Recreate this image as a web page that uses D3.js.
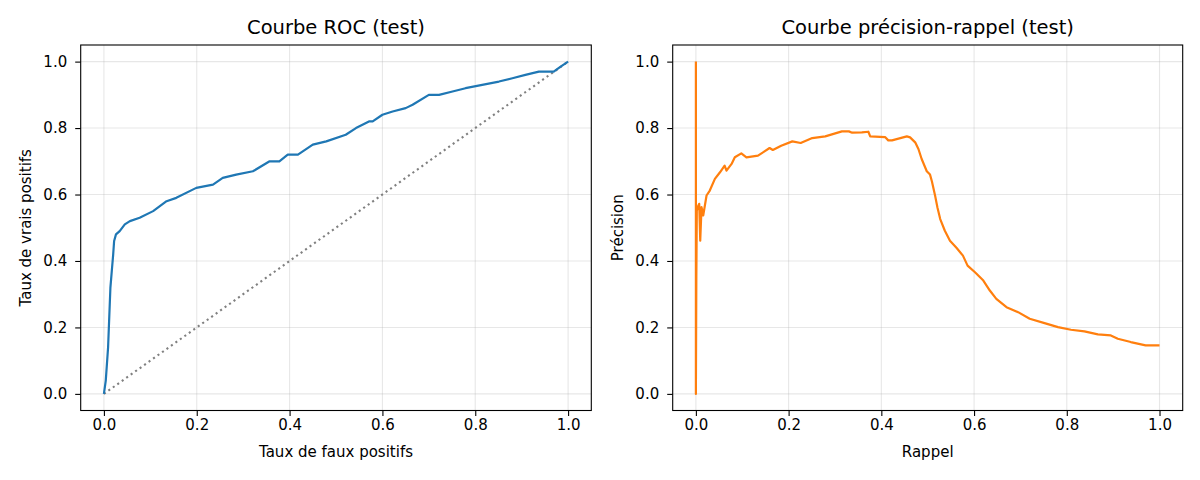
<!DOCTYPE html>
<html>
<head>
<meta charset="utf-8">
<script src="https://cdn.jsdelivr.net/npm/d3@7"></script>
<style>
    body { margin: 0; background: #fff; }
    svg { font-family: "DejaVu Sans", sans-serif; }
</style>
</head>
<body>
<svg id="chart" width="1200" height="480"></svg>
<script>
// ROC curve (test)
const rocFpr = [0, 0.004, 0.009, 0.014, 0.017, 0.020, 0.022, 0.026, 0.034, 0.045, 0.056, 0.077, 0.106, 0.135, 0.156, 0.199,
    0.235, 0.256, 0.285, 0.321, 0.357, 0.378, 0.396, 0.418, 0.450, 0.479, 0.521, 0.543, 0.571, 0.579, 0.600, 0.622,
    0.650, 0.665, 0.700, 0.722, 0.751, 0.779, 0.815, 0.851, 0.880, 0.908, 0.937, 0.969, 0.984, 1];
const rocTpr = [0, 0.04, 0.14, 0.32, 0.37, 0.42, 0.46, 0.48, 0.49, 0.51, 0.52, 0.53, 0.55, 0.58, 0.59, 0.62,
    0.63, 0.65, 0.66, 0.67, 0.70, 0.70, 0.72, 0.72, 0.75, 0.76, 0.78, 0.80, 0.82, 0.82, 0.84, 0.85,
    0.86, 0.87, 0.90, 0.90, 0.91, 0.92, 0.93, 0.94, 0.95, 0.96, 0.97, 0.97, 0.985, 1];

// precision-recall curve (test)
const prRecall = [0, 0, 0.001, 0.002, 0.0037, 0.0072, 0.0094, 0.0122, 0.0158, 0.0194, 0.023, 0.030, 0.041, 0.052, 0.062,
    0.066, 0.077, 0.084, 0.098, 0.109, 0.134, 0.159, 0.166, 0.184, 0.208, 0.226, 0.251, 0.279, 0.315, 0.330, 0.337,
    0.358, 0.372, 0.376, 0.408, 0.415, 0.423, 0.455, 0.462, 0.473, 0.480, 0.487, 0.498, 0.505, 0.509, 0.516, 0.521,
    0.527, 0.537, 0.548, 0.562, 0.576, 0.586, 0.602, 0.620, 0.634, 0.648, 0.670, 0.695, 0.720, 0.752, 0.781, 0.809,
    0.838, 0.867, 0.895, 0.910, 0.938, 0.970, 1.0];
const prPrecision = [1, 0, 0.35, 0.55, 0.562, 0.572, 0.461, 0.562, 0.537, 0.567, 0.597, 0.612, 0.647, 0.667, 0.687,
    0.672, 0.692, 0.712, 0.724, 0.712, 0.717, 0.740, 0.734, 0.747, 0.76, 0.755, 0.77, 0.775, 0.79, 0.79, 0.786,
    0.787, 0.789, 0.775, 0.773, 0.763, 0.763, 0.775, 0.772, 0.757, 0.737, 0.707, 0.67, 0.66, 0.64, 0.596, 0.561,
    0.526, 0.491, 0.461, 0.44, 0.416, 0.386, 0.366, 0.341, 0.311, 0.286, 0.261, 0.246, 0.226, 0.213, 0.201, 0.193,
    0.188, 0.179, 0.176, 0.166, 0.156, 0.146, 0.146];

const ticks = [0, 0.2, 0.4, 0.6, 0.8, 1.0];

const svg = d3.select("#chart");
const fontTick = 15, fontTitle = 19.5;

function panel(left, right, title, xLabel, yLabel, draw) {
    const top = 45, bottom = 410.5;
    const x = d3.scaleLinear().domain([-0.05, 1.05]).range([left, right]);
    const y = d3.scaleLinear().domain([-0.05, 1.05]).range([bottom, top]);
    const g = svg.append("g");

    // grid
    g.append("g").selectAll("line").data(ticks).join("line")
        .attr("x1", d => x(d)).attr("x2", d => x(d))
        .attr("y1", top).attr("y2", bottom)
        .attr("stroke", "#b0b0b0").attr("stroke-opacity", 0.3).attr("stroke-width", 1.1);
    g.append("g").selectAll("line").data(ticks).join("line")
        .attr("y1", d => y(d)).attr("y2", d => y(d))
        .attr("x1", left).attr("x2", right)
        .attr("stroke", "#b0b0b0").attr("stroke-opacity", 0.3).attr("stroke-width", 1.1);

    const clip = "clip" + Math.round(left);
    g.append("clipPath").attr("id", clip).append("rect")
        .attr("x", left).attr("y", top).attr("width", right - left).attr("height", bottom - top);
    draw(g.append("g").attr("clip-path", `url(#${clip})`), x, y);

    // axes
    const ax = g.append("g").attr("transform", `translate(0,${bottom})`)
        .call(d3.axisBottom(x).tickValues(ticks).tickFormat(d3.format(".1f")).tickSize(5.5).tickPadding(3.5));
    const ay = g.append("g").attr("transform", `translate(${left},0)`)
        .call(d3.axisLeft(y).tickValues(ticks).tickFormat(d3.format(".1f")).tickSize(5.5).tickPadding(8));
    [ax, ay].forEach(a => {
        a.select(".domain").remove();
        a.selectAll("line").attr("stroke", "#000").attr("stroke-width", 1.1);
        a.selectAll("text").attr("font-size", fontTick).attr("fill", "#000")
            .attr("font-family", "DejaVu Sans");
    });

    g.append("rect").attr("x", left).attr("y", top)
        .attr("width", right - left).attr("height", bottom - top)
        .attr("fill", "none").attr("stroke", "#000").attr("stroke-width", 1.1);

    // titles and labels
    g.append("text").attr("x", (left + right) / 2).attr("y", 34.3)
        .attr("text-anchor", "middle").attr("font-size", fontTitle).text(title);
    g.append("text").attr("x", (left + right) / 2).attr("y", 457.3)
        .attr("text-anchor", "middle").attr("font-size", fontTick).text(xLabel);
    g.append("text").attr("transform", `translate(${left - 50},${(top + bottom) / 2}) rotate(-90)`)
        .attr("text-anchor", "middle").attr("font-size", fontTick).text(yLabel);
}

panel(80.7, 591.3, "Courbe ROC (test)", "Taux de faux positifs", "Taux de vrais positifs", (g, x, y) => {
    g.append("path")
        .attr("d", d3.line()([[x(0), y(0)], [x(1), y(1)]]))
        .attr("fill", "none").attr("stroke", "gray").attr("stroke-width", 2.1)
        .attr("stroke-dasharray", "2.1,3.4");
    g.append("path")
        .datum(rocFpr.map((v, i) => [v, rocTpr[i]]))
        .attr("d", d3.line().x(d => x(d[0])).y(d => y(d[1])))
        .attr("fill", "none").attr("stroke", "#1f77b4").attr("stroke-width", 2.2)
        .attr("stroke-linejoin", "round");
});

panel(672.7, 1182.7, "Courbe précision-rappel (test)", "Rappel", "Précision", (g, x, y) => {
    g.append("path")
        .datum(prRecall.map((v, i) => [v, prPrecision[i]]))
        .attr("d", d3.line().x(d => x(d[0])).y(d => y(d[1])))
        .attr("fill", "none").attr("stroke", "#ff7f0e").attr("stroke-width", 2.2)
        .attr("stroke-linejoin", "round");
});
</script>
</body>
</html>
